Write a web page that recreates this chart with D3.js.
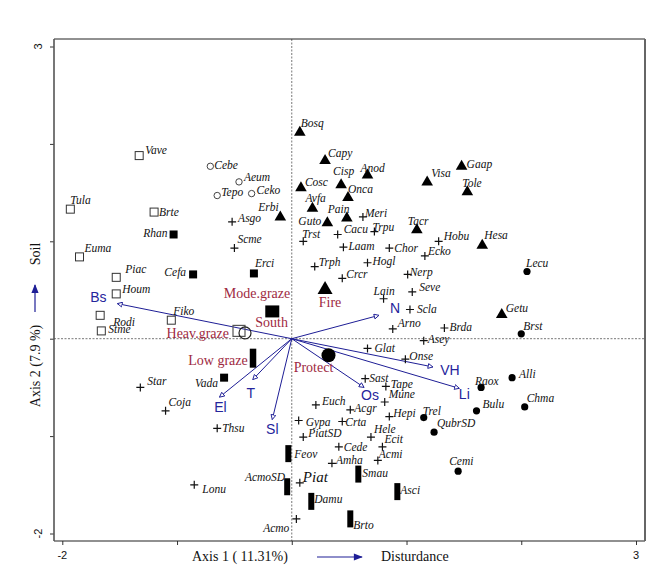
<!DOCTYPE html>
<html>
<head>
<meta charset="utf-8">
<script src="https://cdn.jsdelivr.net/npm/d3@7"></script>
<style>
  body { margin: 0; background: #fff; }
  svg { display: block; }
  .sp { font-family: "Liberation Serif", "DejaVu Serif", serif; font-style: italic; font-size: 11.5px; fill: #111; }
  .env { font-family: "Liberation Serif", serif; font-size: 14px; fill: #9e2a3f; }
  .vec { font-family: "Liberation Sans", Arial, sans-serif; font-size: 14px; fill: #25259c; }
  .axis-title { font-family: "Liberation Serif", serif; font-size: 14px; fill: #111; }
  .tick-label { font-family: "Liberation Sans", Arial, sans-serif; font-size: 11px; fill: #111; }
</style>
</head>
<body>
<div id="chart"></div>
<script>
// species scores on axis 1 / axis 2, grouped by plot symbol
const openSquares = [
  ["Vave", -1.33, 1.88], ["Tula", -1.93, 1.33], ["Brte", -1.20, 1.30], ["Euma", -1.85, 0.84],
  ["Piac", -1.53, 0.63], ["Houm", -1.53, 0.46], ["Rodi", -1.67, 0.24], ["Stme", -1.66, 0.08],
  ["Fiko", -1.05, 0.19]
];
const openCircles = [
  ["Cebe", -0.71, 1.77], ["Aeum", -0.46, 1.61], ["Tepo", -0.65, 1.47], ["Ceko", -0.35, 1.49]
];
const filledSquares = [
  ["Rhan", -1.03, 1.07], ["Cefa", -0.86, 0.66], ["Erci", -0.33, 0.67], ["Vada", -0.59, -0.40]
];
const triangles = [
  ["Bosq", 0.07, 2.13], ["Capy", 0.29, 1.84], ["Cisp", 0.43, 1.59], ["Anod", 0.66, 1.69],
  ["Cosc", 0.08, 1.56], ["Onca", 0.49, 1.46], ["Avfa", 0.18, 1.35], ["Pain", 0.48, 1.25],
  ["Erbi", -0.10, 1.26], ["Guto", 0.31, 1.20], ["Visa", 1.18, 1.62], ["Tacr", 1.09, 1.13],
  ["Gaap", 1.48, 1.78], ["Tole", 1.53, 1.52], ["Hesa", 1.66, 0.97], ["Getu", 1.83, 0.26]
];
const filledCircles = [
  ["Lecu", 2.05, 0.69], ["Brst", 2.00, 0.05], ["Alli", 1.92, -0.40], ["Raox", 1.65, -0.50],
  ["Chma", 2.03, -0.70], ["Bulu", 1.61, -0.74], ["Trel", 1.15, -0.81], ["QubrSD", 1.24, -0.96],
  ["Cemi", 1.45, -1.36]
];
const crosses = [
  ["Asgo", -0.52, 1.20], ["Scme", -0.50, 0.93], ["Meri", 0.62, 1.25], ["Cacu", 0.40, 1.07],
  ["Trpu", 0.72, 1.10], ["Trst", 0.10, 1.00], ["Laam", 0.45, 0.94], ["Chor", 0.85, 0.93],
  ["Ecko", 1.16, 0.85], ["Hobu", 1.28, 1.00], ["Trph", 0.20, 0.74], ["Hogl", 0.66, 0.78],
  ["Crcr", 0.44, 0.62], ["Nerp", 1.01, 0.66], ["Seve", 1.05, 0.48], ["Lain", 0.80, 0.41],
  ["Scla", 1.03, 0.30], ["Arno", 0.88, 0.10], ["Brda", 1.33, 0.11], ["Asey", 1.15, -0.02],
  ["Glat", 0.66, -0.10], ["Onse", 0.99, -0.21], ["Sast", 0.64, -0.41], ["Tape", 0.82, -0.49],
  ["Mune", 0.81, -0.65], ["Euch", 0.21, -0.68], ["Acgr", 0.51, -0.73], ["Hepi", 0.85, -0.80],
  ["Gypa", 0.06, -0.84], ["Crta", 0.44, -0.85], ["PiatSD", 0.10, -1.01], ["Hele", 0.69, -1.01],
  ["Cede", 0.41, -1.11], ["Ecit", 0.79, -1.11], ["Amha", 0.35, -1.28], ["Acmi", 0.75, -1.25],
  ["Star", -1.32, -0.50], ["Coja", -1.10, -0.74], ["Thsu", -0.65, -0.92], ["Lonu", -0.85, -1.50],
  ["Piat", 0.07, -1.48], ["Acmo", 0.04, -1.85]
];
const bars = [
  ["Feov", -0.03, -1.18], ["AcmoSD", -0.04, -1.52], ["Damu", 0.17, -1.67], ["Smau", 0.58, -1.39],
  ["Asci", 0.92, -1.57], ["Brto", 0.51, -1.85]
];

// nominal environmental variables (centroids)
const centroids = [
  ["Mode.graze", -0.17, 0.28, "square"], ["South", -0.17, 0.28, "square"],
  ["Fire", 0.29, 0.52, "triangle"], ["Protect", 0.32, -0.17, "circle"],
  ["Low graze", -0.34, -0.20, "bar"], ["Heav.graze", -0.46, 0.08, "opensquare"]
];
// quantitative environmental variables (arrow tips)
const vectors = [
  ["Bs", -1.52, 0.36], ["N", 0.76, 0.24], ["VH", 1.23, -0.29], ["Li", 1.46, -0.51],
  ["Os", 0.63, -0.50], ["El", -0.63, -0.60], ["T", -0.34, -0.42], ["Sl", -0.17, -0.83]
];

const xTicks = [-2, -1, 0, 1, 2, 3];
const yTicks = [-2, -1, 0, 1, 2, 3];
const xTickLabels = [-2, 3];
const yTickLabels = [-2, 3];
const xTitle = "Axis 1 ( 11.31%)";
const xGradient = "Disturdance";
const yTitle = "Axis 2 (7.9 %)";
const yGradient = "Soil";

// label placement relative to marker: [dx, dy, anchor]
const labelAt = {
  Vave: [6, -6], Tula: [0, -9], Brte: [5, 0], Euma: [5, -9], Piac: [9, -8], Houm: [6, -5],
  Rodi: [13, 7], Stme: [7, -2], Fiko: [2, -9],
  Cebe: [4, -1], Aeum: [5, -5], Tepo: [4, -4], Ceko: [5, -4],
  Rhan: [-6, -2, "end"], Cefa: [-7, -2, "end"], Erci: [1, -10], Vada: [-6, 5, "end"],
  Bosq: [1, -8], Capy: [3, -7], Cisp: [-8, -13], Anod: [-7, -6], Cosc: [4, -5], Onca: [0, -8],
  Avfa: [-7, -9], Pain: [-19, -8], Erbi: [-22, -9], Guto: [-6, -1, "end"], Visa: [4, -8],
  Tacr: [-9, -8], Gaap: [5, -1], Tole: [-5, -8], Hesa: [2, -9], Getu: [4, -5],
  Lecu: [-1, -9], Brst: [2, -8], Alli: [7, -4], Raox: [-6, -6], Chma: [2, -9], Bulu: [6, -7],
  Trel: [-1, -7], QubrSD: [3, -9], Cemi: [-9, -10],
  Asgo: [6, -4], Scme: [3, -9], Meri: [2, -4], Cacu: [6, -6], Trpu: [-2, -5], Trst: [-1, -7],
  Laam: [5, -1], Chor: [5, 0], Ecko: [3, -5], Hobu: [5, -5], Trph: [4, -5], Hogl: [5, -2],
  Crcr: [4, -4], Nerp: [2, -2], Seve: [7, -5], Lain: [-10, -8], Scla: [7, -1], Arno: [5, -6],
  Brda: [5, -1], Asey: [4, -2], Glat: [7, 0], Onse: [4, -3], Sast: [4, -1], Tape: [5, -2],
  Mune: [4, -8], Euch: [6, -4], Acgr: [4, -2], Hepi: [4, -4], Gypa: [7, 1], Crta: [3, 0],
  PiatSD: [5, -4], Hele: [3, -8], Cede: [5, 0], Ecit: [2, -8], Amha: [4, -3], Acmi: [1, -6],
  Star: [7, -6], Coja: [3, -9], Thsu: [5, 0], Lonu: [8, 4], Piat: [3, -6], Acmo: [-7, 9, "end"],
  Feov: [6, 0], AcmoSD: [-2, -10, "end"], Damu: [3, -2], Smau: [4, -1], Asci: [3, -2], Brto: [3, 6],
  "Mode.graze": [18, -18, "end"], South: [-17, 11], Fire: [5, 14, "middle"],
  Protect: [-15, 12, "middle"], "Low graze": [-5, 2, "end"], "Heav.graze": [-10, 2, "end"],
  Bs: [-19, -7, "middle"], N: [16, -7, "middle"], VH: [17, 3, "middle"], Li: [5, 6, "middle"],
  Os: [6, 8, "middle"], El: [1, 10, "middle"], T: [-2, 13, "middle"], Sl: [0, 10, "middle"]
};

(function() {
  const width = 668, height = 573;
  const frame = {left: 54, right: 645, top: 39, bottom: 541};

  const svg = d3.select("#chart").append("svg")
    .attr("width", width)
    .attr("height", height);

  const x = d3.scaleLinear().domain([-2, 3]).range([62.3, 636]);
  const y = d3.scaleLinear().domain([-2, 3]).range([533.5, 46.5]);

  const navy = "#1e1e96";

  const defs = svg.append("defs");
  defs.append("marker")
    .attr("id", "openHead")
    .attr("viewBox", "0 0 10 10")
    .attr("refX", 9).attr("refY", 5)
    .attr("markerWidth", 6).attr("markerHeight", 6)
    .attr("markerUnits", "userSpaceOnUse")
    .attr("orient", "auto")
    .append("path")
    .attr("d", "M1,1 L9,5 L1,9 Z")
    .attr("fill", "#fff")
    .attr("stroke", navy)
    .attr("stroke-width", 1.5);
  defs.append("marker")
    .attr("id", "solidHead")
    .attr("viewBox", "0 0 10 10")
    .attr("refX", 9).attr("refY", 5)
    .attr("markerWidth", 11).attr("markerHeight", 9)
    .attr("markerUnits", "userSpaceOnUse")
    .attr("orient", "auto")
    .append("path")
    .attr("d", "M0,1 L10,5 L0,9 Z")
    .attr("fill", navy);

  // zero lines
  svg.append("line")
    .attr("x1", frame.left).attr("x2", frame.right)
    .attr("y1", y(0)).attr("y2", y(0))
    .attr("stroke", "#777").attr("stroke-dasharray", "2,1.5");
  svg.append("line")
    .attr("x1", x(0)).attr("x2", x(0))
    .attr("y1", frame.top).attr("y2", frame.bottom)
    .attr("stroke", "#777").attr("stroke-dasharray", "2,1.5");

  // axes
  const gx = svg.append("g")
    .attr("transform", `translate(0,${frame.bottom})`)
    .call(d3.axisBottom(x).tickValues(xTicks).tickSize(4).tickFormat(""));
  gx.select(".domain").remove();
  const gy = svg.append("g")
    .attr("transform", `translate(${frame.left},0)`)
    .call(d3.axisLeft(y).tickValues(yTicks).tickSize(4).tickFormat(""));
  gy.select(".domain").remove();
  svg.selectAll(".tick line").attr("stroke", "#333");

  // frame
  svg.append("line").attr("x1", frame.left).attr("x2", frame.right)
    .attr("y1", frame.top).attr("y2", frame.top).attr("stroke", "#222").attr("stroke-width", 1);
  svg.append("line").attr("x1", frame.left).attr("x2", frame.right)
    .attr("y1", frame.bottom).attr("y2", frame.bottom).attr("stroke", "#222").attr("stroke-width", 1.2);
  svg.append("line").attr("x1", frame.left).attr("x2", frame.left)
    .attr("y1", frame.top).attr("y2", frame.bottom).attr("stroke", "#555").attr("stroke-width", 1.6);
  svg.append("line").attr("x1", frame.right).attr("x2", frame.right)
    .attr("y1", frame.top).attr("y2", frame.bottom).attr("stroke", "#666").attr("stroke-width", 2);

  // tick labels
  svg.selectAll("text.xtl")
    .data(xTickLabels)
    .enter().append("text")
    .attr("class", "tick-label")
    .attr("x", d => x(d)).attr("y", 559)
    .attr("text-anchor", "middle")
    .text(d => d);
  svg.selectAll("text.ytl")
    .data(yTickLabels)
    .enter().append("text")
    .attr("class", "tick-label")
    .attr("transform", d => `translate(42,${y(d)}) rotate(-90)`)
    .attr("text-anchor", "middle")
    .text(d => d);

  // axis titles
  svg.append("text").attr("class", "axis-title")
    .attr("x", 192).attr("y", 561).text(xTitle);
  svg.append("line")
    .attr("x1", 317).attr("x2", 362).attr("y1", 557).attr("y2", 557)
    .attr("stroke", navy).attr("stroke-width", 1.2)
    .attr("marker-end", "url(#solidHead)");
  svg.append("text").attr("class", "axis-title")
    .attr("x", 381).attr("y", 561).text(xGradient);

  svg.append("text").attr("class", "axis-title")
    .attr("transform", "translate(40,366) rotate(-90)")
    .attr("text-anchor", "middle").text(yTitle);
  svg.append("text").attr("class", "axis-title")
    .attr("transform", "translate(40,254) rotate(-90)")
    .attr("text-anchor", "middle").text(yGradient);
  svg.append("line")
    .attr("x1", 35).attr("x2", 35).attr("y1", 312).attr("y2", 285)
    .attr("stroke", navy).attr("stroke-width", 1.2)
    .attr("marker-end", "url(#solidHead)");

  // environmental arrows
  svg.selectAll("line.vec")
    .data(vectors)
    .enter().append("line")
    .attr("class", "vec-line")
    .attr("x1", x(0)).attr("y1", y(0))
    .attr("x2", d => x(d[1])).attr("y2", d => y(d[2]))
    .attr("stroke", navy).attr("stroke-width", 1)
    .attr("marker-end", "url(#openHead)");

  // species markers
  const g = svg.append("g");

  g.selectAll("rect.osq").data(openSquares).enter().append("rect")
    .attr("x", d => x(d[1]) - 4).attr("y", d => y(d[2]) - 4)
    .attr("width", 8).attr("height", 8)
    .attr("fill", "#fff").attr("stroke", "#333").attr("stroke-width", 1);

  g.selectAll("circle.oc").data(openCircles).enter().append("circle")
    .attr("cx", d => x(d[1])).attr("cy", d => y(d[2])).attr("r", 3.2)
    .attr("fill", "#fff").attr("stroke", "#444").attr("stroke-width", 1);

  g.selectAll("rect.fsq").data(filledSquares).enter().append("rect")
    .attr("x", d => x(d[1]) - 4).attr("y", d => y(d[2]) - 4)
    .attr("width", 8).attr("height", 8).attr("fill", "#000");

  g.selectAll("path.tri").data(triangles).enter().append("path")
    .attr("d", d => {
      const cx = x(d[1]), cy = y(d[2]);
      return `M${cx},${cy - 5.5} L${cx + 5.8},${cy + 4.5} L${cx - 5.8},${cy + 4.5} Z`;
    })
    .attr("fill", "#000");

  g.selectAll("circle.fc").data(filledCircles).enter().append("circle")
    .attr("cx", d => x(d[1])).attr("cy", d => y(d[2])).attr("r", 3.6)
    .attr("fill", "#000");

  g.selectAll("path.cross").data(crosses).enter().append("path")
    .attr("d", d => {
      const cx = x(d[1]), cy = y(d[2]);
      return `M${cx - 4},${cy} H${cx + 4} M${cx},${cy - 4} V${cy + 4}`;
    })
    .attr("stroke", "#111").attr("stroke-width", 1.2);

  g.selectAll("rect.bar").data(bars).enter().append("rect")
    .attr("x", d => x(d[1]) - 3).attr("y", d => y(d[2]) - 8.5)
    .attr("width", 6).attr("height", 17).attr("fill", "#000");

  // centroid markers
  centroids.forEach(d => {
    const cx = x(d[1]), cy = y(d[2]);
    if (d[3] === "square" && d[0] === "South") {
      g.append("rect").attr("x", cx - 7).attr("y", cy - 6).attr("width", 14).attr("height", 12).attr("fill", "#000");
    } else if (d[3] === "triangle") {
      g.append("path").attr("d", `M${cx},${cy - 7} L${cx + 7.5},${cy + 6} L${cx - 7.5},${cy + 6} Z`).attr("fill", "#000");
    } else if (d[3] === "circle") {
      g.append("circle").attr("cx", cx).attr("cy", cy).attr("r", 7).attr("fill", "#000");
    } else if (d[3] === "bar") {
      g.append("rect").attr("x", cx - 3).attr("y", cy - 9.5).attr("width", 6.5).attr("height", 19).attr("fill", "#000");
    } else if (d[3] === "opensquare") {
      g.append("rect").attr("x", cx - 6).attr("y", cy - 5.5).attr("width", 12).attr("height", 11)
        .attr("fill", "none").attr("stroke", "#555").attr("stroke-width", 1.2);
      g.append("circle").attr("cx", cx + 6).attr("cy", cy + 2).attr("r", 6)
        .attr("fill", "none").attr("stroke", "#222").attr("stroke-width", 1.2);
    }
  });

  // labels
  function addLabels(data, cls) {
    g.selectAll(null).data(data).enter().append("text")
      .attr("class", cls)
      .attr("x", d => x(d[1]) + (labelAt[d[0]] || [5, 0])[0])
      .attr("y", d => y(d[2]) + (labelAt[d[0]] || [5, 0])[1])
      .attr("dy", "0.35em")
      .attr("text-anchor", d => (labelAt[d[0]] || [])[2] || "start")
      .style("font-size", d => d[0] === "Piat" ? "15px" : null)
      .text(d => d[0]);
  }
  addLabels([].concat(openSquares, openCircles, filledSquares, triangles, filledCircles, crosses, bars), "sp");
  addLabels(centroids, "env");
  addLabels(vectors, "vec");
})();
</script>
</body>
</html>
